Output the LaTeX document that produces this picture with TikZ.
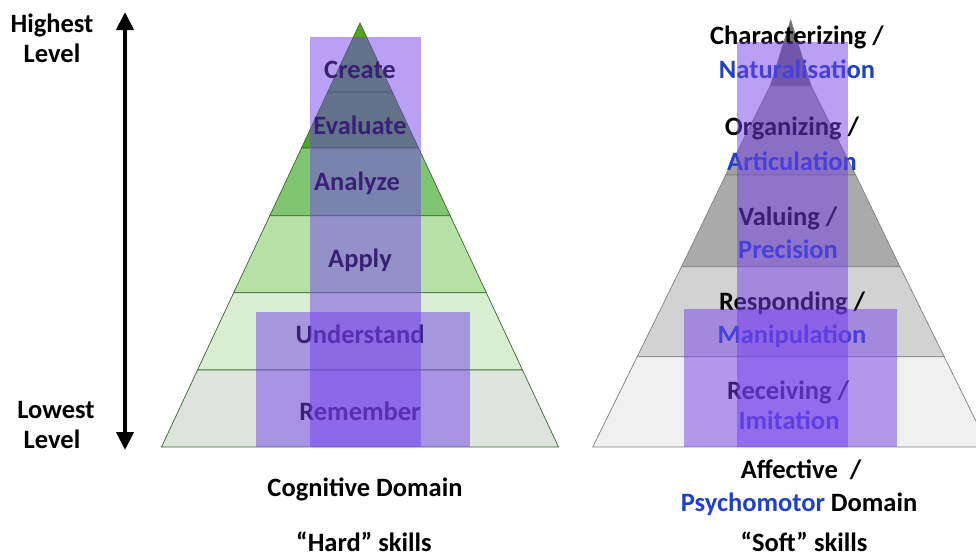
\documentclass[tikz,border=0pt]{standalone}
\usepackage{fontspec}
\setmainfont{Carlito}
\usetikzlibrary{arrows.meta}

\definecolor{bandpurple}{RGB}{115,65,235}
\definecolor{levelblue}{RGB}{32,64,200}
\definecolor{cogA}{RGB}{80,165,40}
\definecolor{cogB}{RGB}{128,198,112}
\definecolor{cogC}{RGB}{182,226,167}
\definecolor{cogD}{RGB}{216,238,206}
\definecolor{cogE}{RGB}{220,228,220}
\definecolor{affA}{RGB}{110,110,110}
\definecolor{affB}{RGB}{160,160,160}
\definecolor{affC}{RGB}{170,170,170}
\definecolor{affD}{RGB}{210,210,210}
\definecolor{affE}{RGB}{240,240,240}

\begin{document}
\begin{tikzpicture}[
    x=1pt, y=-1pt,
    cognitive/.style={fill=#1, draw={rgb,255:red,60;green,100;blue,50}, line width=0.7pt},
    affective/.style={fill=#1, draw=black!50, line width=0.7pt},
    band/.style={fill=bandpurple, fill opacity=0.5},
    level/.style={anchor=base, inner sep=0pt, font=\bfseries\fontsize{26.5}{30}\selectfont},
    motor/.style={level, text=levelblue}
  ]

  \useasboundingbox (0,0) rectangle (976,557);
  \clip (0,0) rectangle (976,557);

  % cognitive pyramid
  \path[cognitive=cogA] (360,23) -- (392.3,92) -- (327.7,92) -- cycle;
  \path[cognitive=cogA] (327.7,92) -- (392.3,92) -- (418.5,148) -- (301.5,148) -- cycle;
  \path[cognitive=cogB] (301.5,148) -- (418.5,148) -- (450.2,215.7) -- (269.8,215.7) -- cycle;
  \path[cognitive=cogC] (269.8,215.7) -- (450.2,215.7) -- (486.3,292.7) -- (233.7,292.7) -- cycle;
  \path[cognitive=cogD] (233.7,292.7) -- (486.3,292.7) -- (522.5,370) -- (197.5,370) -- cycle;
  \path[cognitive=cogE] (197.5,370) -- (522.5,370) -- (558.5,447) -- (161.5,447) -- cycle;

  % affective pyramid
  \path[affective=affA] (790.7,20) -- (811.2,86) -- (770.2,86) -- cycle;
  \path[affective=affB] (770.2,86) -- (811.2,86) -- (855.7,175) -- (725.7,175) -- cycle;
  \path[affective=affC] (725.7,175) -- (855.7,175) -- (899.9,266.7) -- (681.5,266.7) -- cycle;
  \path[affective=affD] (681.5,266.7) -- (899.9,266.7) -- (944.2,356.7) -- (637.2,356.7) -- cycle;
  \path[affective=affE] (637.2,356.7) -- (944.2,356.7) -- (988.7,447) -- (592.7,447) -- cycle;

  \begin{scope}[every node/.style={level}]
    \node (create) at (360,78) {Create};
    \node (evaluate) at (360,134) {Evaluate};
    \node (analyze) at (357,190) {Analyze};
    \node (apply) at (360,267) {Apply};
    \node (understand) at (360,343) {Understand};
    \node (remember) at (360,420) {Remember};

    \node (characterizing) at (797,44) {Characterizing /};
    \node (organizing) at (792,135) {Organizing /};
    \node (valuing) at (788,225) {Valuing /};
    \node (responding) at (792,310) {Responding /};
    \node (receiving) at (788,399) {Receiving /};
  \end{scope}

  \begin{scope}[every node/.style={motor}]
    \node (naturalisation) at (797,78) {Naturalisation};
    \node (articulation) at (792,170) {Articulation};
    \node (precision) at (788,258) {Precision};
    \node (manipulation) at (792,343) {Manipulation};
    \node (imitation) at (789,429) {Imitation};
  \end{scope}

  % purple bands
  \fill[band] (310,37) rectangle (421,447);
  \fill[band] (256,312) rectangle (470,447);
  \fill[band] (737,42) rectangle (848,447);
  \fill[band] (684,309) rectangle (897,447);

  % level arrow
  \node[level] (highest) at (52,32) {Highest};
  \node[level] (highlevel) at (52,62) {Level};
  \node[level] (lowest) at (56,418) {Lowest};
  \node[level] (lowlevel) at (52,448) {Level};
  \coordinate (top) at (125,12);
  \coordinate (bottom) at (125,450);
  \draw[line width=4pt, {Triangle[width=17pt,length=18pt]}-{Triangle[width=17pt,length=18pt]}] (bottom) -- (top);

  % domains
  \node[level] (cognitive) at (365,496) {Cognitive Domain};
  \node[level] (hard) at (364,551) {“Hard” skills};
  \node[level] (affectivedom) at (801,478) {Affective\ \ /};
  \node[level] (psychomotor) at (799,511) {\textcolor{levelblue}{Psychomotor} Domain};
  \node[level] (soft) at (804,551) {“Soft” skills};

\end{tikzpicture}
\end{document}
